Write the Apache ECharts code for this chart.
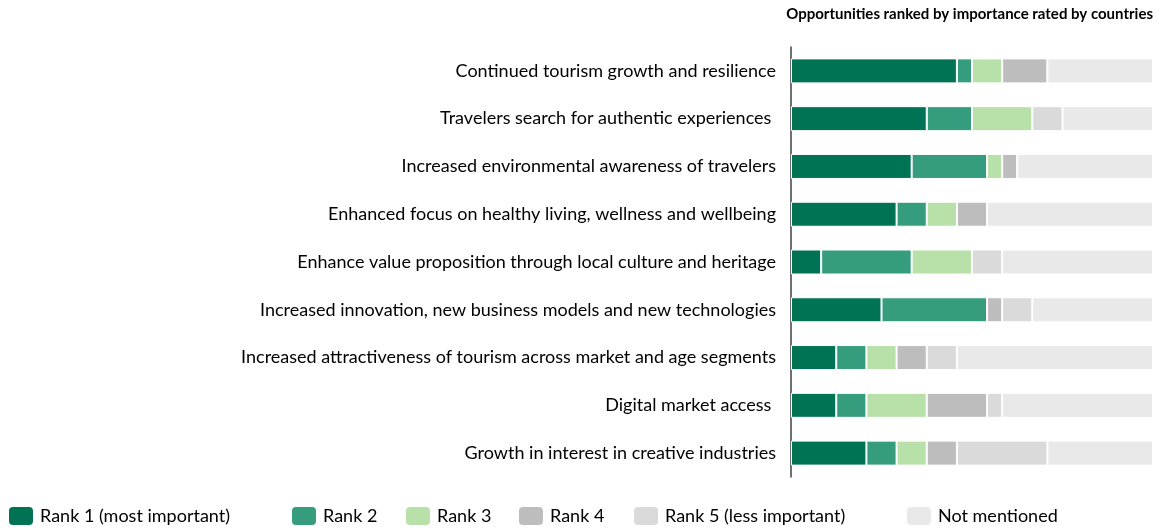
<!DOCTYPE html>
<html>
<head>
<meta charset="utf-8">
<script src="https://cdn.jsdelivr.net/npm/echarts@6/dist/echarts.min.js"></script>
<style>
  html, body { margin: 0; padding: 0; background: #fff; }
  #chart { width: 1174px; height: 530px; }
</style>
</head>
<body>
<div id="chart"></div>
<script>
// Opportunities, listed top to bottom
const categories = [
  'Continued tourism growth and resilience',
  'Travelers search for authentic experiences ',
  'Increased environmental awareness of travelers',
  'Enhanced focus on healthy living, wellness and wellbeing',
  'Enhance value proposition through local culture and heritage',
  'Increased innovation, new business models and new technologies',
  'Increased attractiveness of tourism across market and age segments',
  'Digital market access ',
  'Growth in interest in creative industries'
];

// Number of countries giving each rank
const rank1 = [11, 9, 8, 7, 2, 6, 3, 3, 5];
const rank2 = [1, 3, 5, 2, 6, 7, 2, 2, 2];
const rank3 = [2, 4, 1, 2, 4, 0, 2, 4, 2];
const rank4 = [3, 0, 1, 2, 0, 1, 2, 4, 2];
const rank5 = [0, 2, 0, 0, 2, 2, 2, 1, 6];
const notMentioned = [7, 6, 9, 11, 10, 8, 13, 10, 7];

const seriesNames = [
  'Rank 1 (most important)', 'Rank 2', 'Rank 3', 'Rank 4',
  'Rank 5 (less important)', 'Not mentioned'
];
const seriesData = [rank1, rank2, rank3, rank4, rank5, notMentioned];
const colors = ['#007355', '#369c7e', '#b8e0a9', '#bdbdbd', '#dadada', '#e9e9e9'];

const FONT = 'Lato';

// one legend entry per component so each can sit at its own x
const legendLeft = [7, 290, 404, 517, 632, 905];
const legends = seriesNames.map((name, i) => ({
  data: [name],
  left: legendLeft[i],
  bottom: 3,
  padding: 0,
  itemWidth: 26,
  itemHeight: 20,
  itemGap: 0,
  textStyle: { fontFamily: FONT, fontSize: 18, color: '#000', padding: [0, 0, 0, 1] },
  selectedMode: false
}));

const chart = echarts.init(document.getElementById('chart'), null, { renderer: 'canvas' });
chart.setOption({
  animation: false,
  color: colors,
  title: {
    text: 'Opportunities ranked by importance rated by countries',
    right: 21,
    top: 7,
    padding: 0,
    textStyle: { fontFamily: FONT, fontSize: 15, fontWeight: 'bold', color: '#000' }
  },
  legend: legends,
  grid: { left: 791, right: 21, top: 47, bottom: 53, containLabel: false },
  xAxis: {
    type: 'value', min: 0, max: 24, show: false
  },
  yAxis: {
    type: 'category',
    data: categories,
    inverse: true,
    axisLine: { show: true, lineStyle: { color: '#404040', width: 1.5 } },
    axisTick: { show: false },
    axisLabel: { fontFamily: FONT, fontSize: 18, color: '#000', margin: 15 }
  },
  series: seriesData.map((d, i) => ({
    name: seriesNames[i],
    type: 'bar',
    stack: 'total',
    barWidth: 25,
    data: d,
    itemStyle: { color: colors[i], borderColor: '#fff', borderWidth: 1 }
  }))
});
</script>
</body>
</html>
